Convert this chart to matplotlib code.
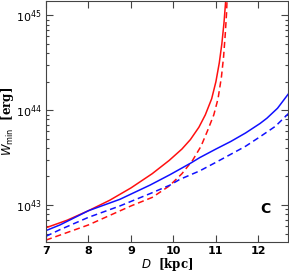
import numpy as np
import matplotlib
matplotlib.use("Agg")
import matplotlib.pyplot as plt
from matplotlib.ticker import LogLocator, FixedLocator, NullFormatter

# D [kpc] and log10(W_min / erg)
d_red_solid = [7.0, 7.5, 8.0, 8.5, 9.0, 9.5, 9.9, 10.2, 10.4, 10.6, 10.75, 10.9, 11.0, 11.08, 11.14, 11.19, 11.23, 11.25]
w_red_solid = [42.76, 42.84, 42.94, 43.05, 43.18, 43.33, 43.47, 43.59, 43.69, 43.82, 43.95, 44.12, 44.30, 44.50, 44.70, 44.92, 45.15, 45.3]

d_red_dash = [7.0, 7.5, 8.0, 8.5, 9.0, 9.5, 9.9, 10.2, 10.45, 10.65, 10.8, 10.95, 11.05, 11.13, 11.18, 11.22, 11.25, 11.27]
w_red_dash = [42.63, 42.71, 42.79, 42.89, 42.99, 43.08, 43.2, 43.33, 43.47, 43.62, 43.78, 43.95, 44.12, 44.35, 44.56, 44.8, 45.02, 45.25]

d_blue_solid = [7.0, 7.33, 8.0, 8.74, 9.45, 9.92, 10.4, 10.62, 11.0, 11.35, 11.7, 12.04, 12.2, 12.45, 12.72]
w_blue_solid = [42.73, 42.79, 42.94, 43.06, 43.21, 43.32, 43.44, 43.5, 43.59, 43.67, 43.76, 43.86, 43.915, 44.02, 44.18]

d_blue_dash = [7.0, 7.33, 8.0, 8.74, 9.45, 9.92, 10.15, 10.62, 11.0, 11.33, 11.7, 12.04, 12.4, 12.72]
w_blue_dash = [42.67, 42.74, 42.87, 42.99, 43.12, 43.21, 43.27, 43.36, 43.45, 43.53, 43.62, 43.72, 43.83, 43.97]

fig = plt.figure(figsize=(2.89, 2.75), dpi=100)
ax = fig.add_axes([0.159, 0.12, 0.838, 0.876])

ax.plot(d_red_solid, 10 ** np.array(w_red_solid), color="#ff1010", lw=1.1)
ax.plot(d_red_dash, 10 ** np.array(w_red_dash), color="#ff1010", lw=1.1, ls=(0, (4, 2.5)))
ax.plot(d_blue_solid, 10 ** np.array(w_blue_solid), color="#1010ff", lw=1.1)
ax.plot(d_blue_dash, 10 ** np.array(w_blue_dash), color="#1010ff", lw=1.1, ls=(0, (4, 2.5)))

ax.set_yscale("log")
ax.set_xlim(7, 12.7)
ax.set_ylim(10 ** 42.61, 10 ** 45.15)

ax.xaxis.set_major_locator(FixedLocator([7, 8, 9, 10, 11, 12]))
ax.yaxis.set_major_locator(FixedLocator([1e43, 1e44, 1e45]))
ax.yaxis.set_minor_locator(LogLocator(base=10, subs=np.arange(2, 10)))
ax.yaxis.set_minor_formatter(NullFormatter())
ax.set_yticklabels([r"$10^{43}$", r"$10^{44}$", r"$10^{45}$"])

ax.tick_params(which="both", direction="in", top=True, right=True, width=0.8, color="#444444")
ax.tick_params(which="major", length=5, labelsize=8, pad=3)
ax.tick_params(which="minor", length=2.5)
for lab in ax.get_xticklabels():
    lab.set_fontweight("bold")
for s in ax.spines.values():
    s.set_linewidth(0.8)
    s.set_color("#444444")

ax.set_xlabel(r"$\mathit{D}$  [kpc]", fontsize=8.5, fontweight="bold", family="DejaVu Serif", labelpad=0)
ax.set_ylabel(r"$\mathit{W}_{\rm min}$  [erg]", fontsize=8.5, fontweight="bold", family="DejaVu Serif", labelpad=0)

ax.text(0.905, 0.135, "C", transform=ax.transAxes, fontsize=10, fontweight="bold", ha="center", va="center")

fig.savefig("out.png", dpi=100)
